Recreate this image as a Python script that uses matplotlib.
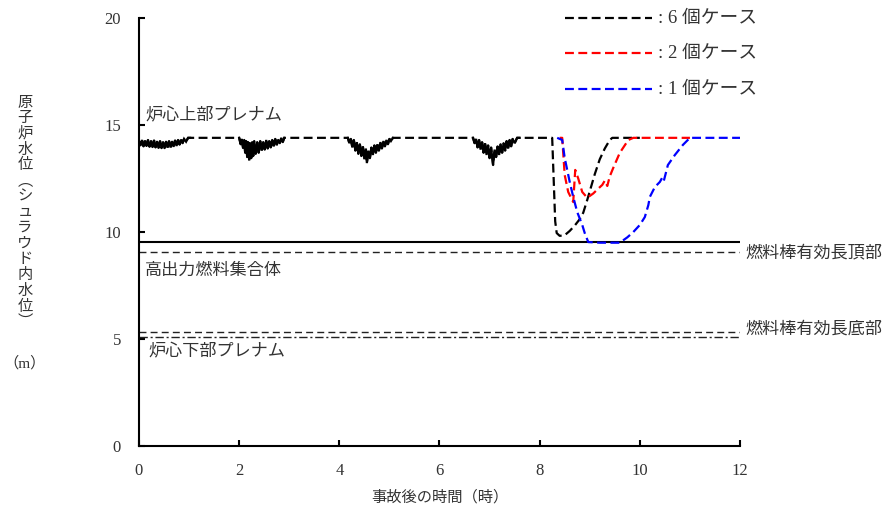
import matplotlib
matplotlib.use("Agg")
import matplotlib.pyplot as plt
from matplotlib.lines import Line2D

JP = ['Noto Sans CJK JP', 'DejaVu Sans']
MIX = ['Liberation Serif', 'Noto Sans CJK JP', 'DejaVu Sans']
TXT = '#333333'

# ---------------- data ----------------
# 6-case (black): noisy dips, then drop after ~8.25 h
case6_x = [
    0.00, 0.03, 0.06, 0.09, 0.12, 0.15, 0.18, 0.21, 0.24, 0.27, 0.30, 0.33, 0.36, 0.39, 0.42,
    0.45, 0.48, 0.51, 0.54, 0.57, 0.60, 0.63, 0.66, 0.69, 0.72, 0.75, 0.78, 0.81, 0.84, 0.87,
    0.90, 0.94, 0.98, 1.02,
    2.00, 2.03, 2.05, 2.08, 2.10, 2.12, 2.14, 2.16, 2.18, 2.20, 2.22, 2.24, 2.26, 2.28, 2.30,
    2.33, 2.36, 2.39, 2.42, 2.45, 2.48, 2.51, 2.54, 2.57, 2.60, 2.63, 2.66, 2.69, 2.72, 2.75,
    2.78, 2.81, 2.84, 2.87, 2.90,
    4.17, 4.20, 4.23, 4.26, 4.29, 4.32, 4.35, 4.38, 4.41, 4.44, 4.47, 4.50, 4.53, 4.55, 4.58,
    4.61, 4.64, 4.67, 4.70, 4.73, 4.76, 4.79, 4.82, 4.85, 4.88, 4.91, 4.94, 4.97, 5.00, 5.03,
    5.07,
    6.67, 6.70, 6.73, 6.76, 6.79, 6.82, 6.85, 6.88, 6.91, 6.94, 6.97, 7.00, 7.03, 7.07, 7.10,
    7.13, 7.16, 7.19, 7.22, 7.25, 7.28, 7.31, 7.34, 7.37, 7.40, 7.43, 7.46, 7.50, 7.55, 7.60,
    8.25, 8.28, 8.31, 8.34, 8.40, 8.50, 8.60, 8.70, 8.80, 8.87, 8.95, 9.00, 9.10, 9.20, 9.30,
    9.40, 9.45, 10.00,
]
case6_y = [
    14.25, 14.05, 14.30, 14.00, 14.28, 14.02, 14.30, 13.98, 14.25, 13.97, 14.28, 13.95, 14.22, 13.93, 14.25,
    13.92, 14.20, 13.92, 14.22, 13.94, 14.25, 13.95, 14.22, 13.98, 14.28, 14.02, 14.30, 14.08, 14.32, 14.15,
    14.35, 14.22, 14.40, 14.40,
    14.40, 14.10, 14.35, 13.90, 14.30, 13.70, 14.25, 13.50, 14.20, 13.35, 14.15, 13.45, 14.20, 13.55, 14.25,
    13.65, 14.20, 13.70, 14.25, 13.80, 14.20, 13.85, 14.30, 13.90, 14.25, 13.95, 14.30, 14.00, 14.35, 14.05,
    14.30, 14.15, 14.40, 14.20, 14.40,
    14.40, 14.15, 14.35, 13.95, 14.30, 13.80, 14.20, 13.65, 14.10, 13.55, 14.00, 13.40, 13.90, 13.22, 13.80,
    13.45, 13.95, 13.60, 14.05, 13.70, 14.10, 13.80, 14.20, 13.90, 14.25, 14.00, 14.30, 14.10, 14.35, 14.25,
    14.40,
    14.40, 14.15, 14.35, 13.95, 14.30, 13.85, 14.20, 13.70, 14.15, 13.60, 14.05, 13.45, 13.95, 13.13, 13.85,
    13.50, 14.00, 13.60, 14.10, 13.70, 14.15, 13.80, 14.25, 13.90, 14.30, 14.00, 14.35, 14.15, 14.40, 14.40,
    14.40, 12.50, 10.50, 9.95, 9.82, 9.85, 10.05, 10.30, 10.60, 10.90, 11.50, 11.90, 12.70, 13.40, 13.90,
    14.30, 14.40, 14.40,
]

# 2-case (red)
case2_x = [8.40, 8.45, 8.50, 8.57, 8.67, 8.71, 8.77, 8.85, 8.95, 9.07, 9.18, 9.25, 9.30, 9.35,
           9.40, 9.47, 9.60, 9.77, 9.87, 11.00]
case2_y = [14.40, 14.40, 12.66, 11.87, 11.40, 12.90, 12.50, 11.87, 11.60, 11.80, 12.05, 12.20, 12.40, 12.15,
           12.60, 13.00, 13.70, 14.30, 14.40, 14.40]

# 1-case (blue)
case1_x = [8.35, 8.45, 8.50, 8.60, 8.67, 8.75, 8.85, 8.90, 8.97, 9.20, 9.60, 9.75, 9.87, 10.00,
           10.10, 10.17, 10.20, 10.30, 10.40, 10.45, 10.48, 10.56, 10.70, 10.86, 11.00, 12.00]
case1_y = [14.40, 14.30, 13.46, 12.34, 11.64, 10.93, 10.33, 9.95, 9.53, 9.50, 9.50, 9.75, 10.00, 10.33,
           10.70, 11.26, 11.64, 12.10, 12.34, 12.55, 12.40, 13.13, 13.60, 14.07, 14.40, 14.40]

# reference levels (m)
shroud_level = 9.52
taf_level = 9.05
baf_level = 5.34
lower_plenum_level = 5.10

legend_labels = [': 6 個ケース', ': 2 個ケース', ': 1 個ケース']
series_colors = ['black', '#ff0000', '#0000ff']

xticks = [0, 2, 4, 6, 8, 10, 12]
yticks = [0, 5, 10, 15, 20]

# ---------------- figure ----------------
fig = plt.figure(figsize=(8.87, 5.05), dpi=100)
ax = fig.add_axes([139 / 887, 59 / 505, 601 / 887, 428 / 505])
ax.set_xlim(0, 12)
ax.set_ylim(0, 20)

# horizontal reference lines
ax.plot([0, 12], [shroud_level] * 2, color='black', lw=1.5, solid_capstyle='butt')
ax.plot([0, 12], [taf_level] * 2, color='#222222', lw=1.0, linestyle=(0, (5, 3)))
ax.plot([0, 12], [baf_level] * 2, color='#222222', lw=1.0, linestyle=(0, (5, 3)))
ax.plot([0, 12], [lower_plenum_level] * 2, color='#222222', lw=1.0, linestyle=(0, (6, 2, 1.5, 2)))

ls = (0, (4, 2))
ax.plot(case6_x, case6_y, color=series_colors[0], lw=1.6, linestyle=ls)
# the dense oscillation in the dips renders as a solid band
noisy = [(i, x) for i, x in enumerate(case6_x) if x <= 7.6]
seg_breaks = [(0, 33), (34, 68), (69, 99), (100, 129)]
for a, b in seg_breaks:
    ax.plot(case6_x[a:b + 1], case6_y[a:b + 1], color='black', lw=1.6, solid_joinstyle='miter')
ax.plot(case2_x, case2_y, color=series_colors[1], lw=1.6, linestyle=ls)
ax.plot(case1_x, case1_y, color=series_colors[2], lw=1.6, linestyle=ls)

for s in ['top', 'right']:
    ax.spines[s].set_visible(False)
for s in ['left', 'bottom']:
    ax.spines[s].set_linewidth(1.5)
ax.set_xticks(xticks)
ax.set_yticks(yticks)
ax.tick_params(direction='in', length=4, width=1.5, colors='black', labelcolor=TXT, labelsize=12, pad=12)
for lab in ax.get_xticklabels() + ax.get_yticklabels():
    lab.set_family(['Liberation Serif', 'DejaVu Serif'])
ax.tick_params(axis='y', pad=13)

# annotations
FS = 12.3
ax.text(0.12, 15.45, '炉心上部プレナム', family=JP, fontsize=FS, color=TXT, va='center', ha='left')
ax.text(0.12, 8.22, '高出力燃料集合体', family=JP, fontsize=FS, color=TXT, va='center', ha='left')
ax.text(0.18, 4.42, '炉心下部プレナム', family=JP, fontsize=FS, color=TXT, va='center', ha='left')
ax.text(12.1, taf_level, '燃料棒有効長頂部', family=JP, fontsize=FS, color=TXT, va='center', ha='left', clip_on=False)
ax.text(12.1, baf_level + 0.15, '燃料棒有効長底部', family=JP, fontsize=FS, color=TXT, va='center', ha='left', clip_on=False)

# x label
fig.text(440 / 887, 1 - 497 / 505, '事故後の時間（時）', family=JP, fontsize=11, color=TXT, ha='center', va='center')

# vertical y label
ylab = '原子炉水位︵シュラウド内水位︶'
for i, ch in enumerate(ylab):
    fig.text(25 / 887, 1 - (102 + i * 15.7) / 505, ch, family=JP, fontsize=11, color=TXT, ha='center', va='center')
fig.text(25 / 887, 1 - 363 / 505, '（m）', family=MIX, fontsize=11, color=TXT, ha='center', va='center')

# custom legend
leg_y = [18, 53, 89]
for lab, c, py in zip(legend_labels, series_colors, leg_y):
    yy = 1 - py / 505
    fig.add_artist(Line2D([565 / 887, 652 / 887], [yy, yy], transform=fig.transFigure,
                          color=c, lw=1.6, linestyle=ls))
    fig.text(658 / 887, yy, lab, family=MIX, fontsize=13.5, color=TXT, ha='left', va='center')

fig.savefig('out.png', dpi=100)
